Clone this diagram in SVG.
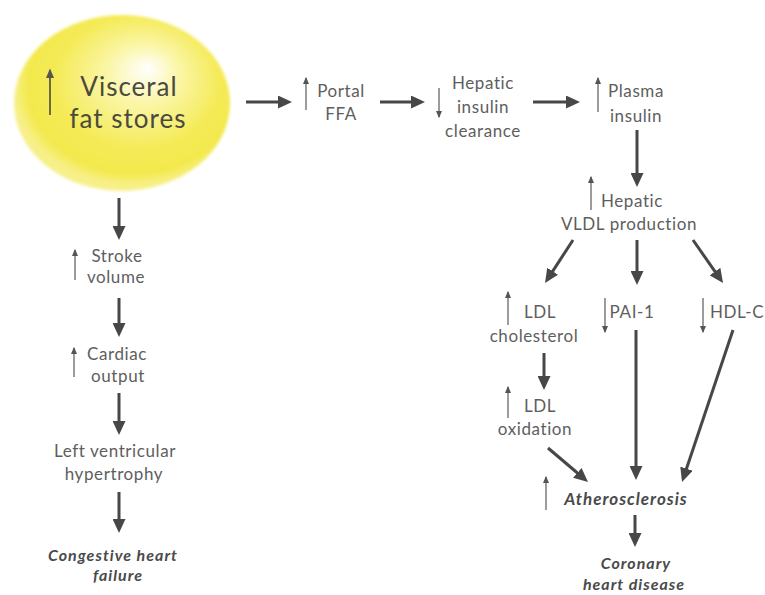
<svg xmlns="http://www.w3.org/2000/svg" width="765" height="595" viewBox="0 0 765 595">
<defs>
<radialGradient id="yel" cx="0.55" cy="0.42" r="0.55" fx="0.62" fy="0.3">
<stop offset="0" stop-color="#ffffff"/>
<stop offset="0.3" stop-color="#fbf6a8"/>
<stop offset="0.7" stop-color="#f4ea55"/>
<stop offset="0.9" stop-color="#f3e94e"/>
<stop offset="1" stop-color="#f7f08a"/>
</radialGradient>
<filter id="soft" x="-5%" y="-5%" width="110%" height="110%">
<feGaussianBlur stdDeviation="1.5"/>
</filter>
<marker id="ah" viewBox="0 0 14 13" refX="4" refY="6.5" markerWidth="14" markerHeight="13" markerUnits="userSpaceOnUse" orient="auto">
<path d="M0,0 L14,6.5 L0,13 z" fill="#47474a"/>
</marker>
<marker id="sh" viewBox="0 0 6 5" refX="5" refY="2.5" markerWidth="6" markerHeight="5" markerUnits="strokeWidth" orient="auto">
<path d="M0,0 L6,2.5 L0,5 z" fill="#555"/>
</marker>
</defs>
<style>
.t{font-family:Lato,"Open Sans",sans-serif;font-size:17px;letter-spacing:0.6px;fill:#5e5e5e;text-anchor:middle}
.b{font-family:Lato,"Open Sans",sans-serif;font-size:16px;letter-spacing:1px;font-weight:bold;font-style:italic;fill:#4a4a4a;text-anchor:middle}
.big{font-family:Lato,"Open Sans",sans-serif;font-size:26px;letter-spacing:1px;fill:#4a4a3e;text-anchor:middle}
.c{stroke:#47474a;stroke-width:3;fill:none;marker-end:url(#ah)}
.s{stroke:#5a5a5a;stroke-width:1.2;fill:none;marker-end:url(#sh)}
</style>
<rect width="765" height="595" fill="#ffffff"/>

<g id="visceral">
<ellipse cx="122" cy="103" rx="108" ry="88" fill="url(#yel)" filter="url(#soft)"/>
<line class="s" x1="50" y1="115" x2="50" y2="70" style="stroke:#4a4a3e;stroke-width:1.6"/>
<text class="big" x="129" y="96">Visceral</text>
<text class="big" x="128" y="128">fat stores</text>
</g>

<g id="portal">
<line class="s" x1="306" y1="110" x2="306" y2="78"/>
<text class="t" x="341" y="97">Portal</text>
<text class="t" x="341" y="120">FFA</text>
</g>

<g id="hepatic-clearance">
<line class="s" x1="439" y1="88" x2="439" y2="117"/>
<text class="t" x="483" y="89">Hepatic</text>
<text class="t" x="483" y="113">insulin</text>
<text class="t" x="483" y="137">clearance</text>
</g>

<g id="plasma">
<line class="s" x1="598" y1="112" x2="598" y2="78"/>
<text class="t" x="636" y="97">Plasma</text>
<text class="t" x="636" y="122">insulin</text>
</g>

<g id="vldl">
<line class="s" x1="591" y1="210" x2="591" y2="177"/>
<text class="t" x="632" y="207">Hepatic</text>
<text class="t" x="629" y="230">VLDL production</text>
</g>

<g id="ldl-chol">
<line class="s" x1="508" y1="325" x2="508" y2="292"/>
<text class="t" x="540" y="318">LDL</text>
<text class="t" x="534" y="342">cholesterol</text>
</g>

<g id="pai">
<line class="s" x1="605" y1="298" x2="605" y2="332"/>
<text class="t" x="632" y="318">PAI-1</text>
</g>

<g id="hdl">
<line class="s" x1="703" y1="298" x2="703" y2="332"/>
<text class="t" x="710" y="318" style="text-anchor:start">HDL-C</text>
</g>

<g id="ldl-ox">
<line class="s" x1="508" y1="418" x2="508" y2="387"/>
<text class="t" x="540" y="412">LDL</text>
<text class="t" x="535" y="435">oxidation</text>
</g>

<g id="athero">
<line class="s" x1="546" y1="510" x2="546" y2="477"/>
<text class="b" x="626" y="505" style="font-size:17px">Atherosclerosis</text>
</g>

<g id="chd">
<text class="b" x="636" y="569">Coronary</text>
<text class="b" x="634" y="590">heart disease</text>
</g>

<g id="stroke">
<line class="s" x1="75" y1="280" x2="75" y2="250"/>
<text class="t" x="117" y="262">Stroke</text>
<text class="t" x="116" y="283">volume</text>
</g>

<g id="cardiac">
<line class="s" x1="74" y1="377" x2="74" y2="348"/>
<text class="t" x="117" y="360">Cardiac</text>
<text class="t" x="118" y="382">output</text>
</g>

<g id="lvh">
<text class="t" x="115" y="457">Left ventricular</text>
<text class="t" x="114" y="480">hypertrophy</text>
</g>

<g id="chf">
<text class="b" x="113" y="561">Congestive heart</text>
<text class="b" x="118" y="581">failure</text>
</g>

<g id="connectors">
<line class="c" x1="246" y1="102" x2="282" y2="102"/>
<line class="c" x1="380" y1="102" x2="415" y2="102"/>
<line class="c" x1="533" y1="102" x2="570" y2="102"/>
<line class="c" x1="637" y1="130" x2="637" y2="177"/>
<line class="c" x1="573" y1="240" x2="550.5" y2="274.6"/>
<line class="c" x1="637" y1="240" x2="637" y2="275"/>
<line class="c" x1="693" y1="240" x2="717.3" y2="274.8"/>
<line class="c" x1="544" y1="353" x2="544" y2="380"/>
<line class="c" x1="636" y1="330" x2="636" y2="470"/>
<line class="c" x1="733" y1="330" x2="685.2" y2="472.5"/>
<line class="c" x1="548" y1="448" x2="580.4" y2="475.5"/>
<line class="c" x1="635" y1="515" x2="635" y2="537"/>
<line class="c" x1="119" y1="198" x2="119" y2="230"/>
<line class="c" x1="119" y1="298" x2="119" y2="327"/>
<line class="c" x1="119" y1="393" x2="119" y2="425"/>
<line class="c" x1="119" y1="492" x2="119" y2="523"/>
</g>
</svg>
